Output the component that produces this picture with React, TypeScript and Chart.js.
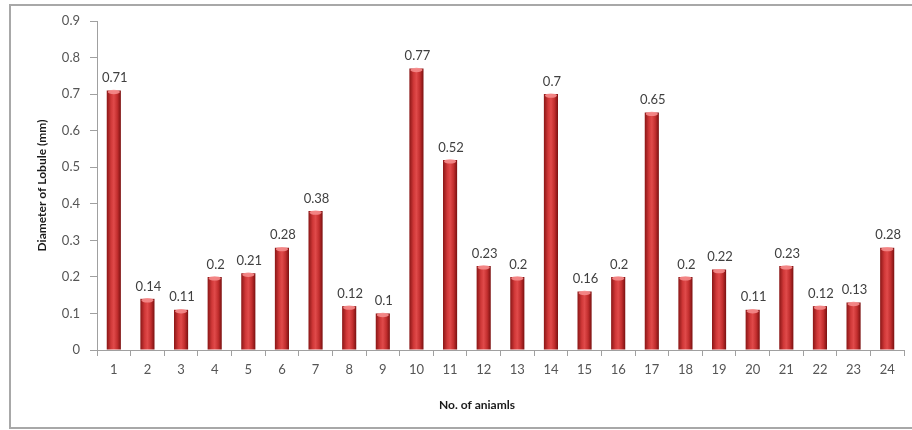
import React, { useEffect, useRef } from "react";
import { Chart, registerables } from "chart.js";

Chart.register(...registerables);

const categories = ["1","2","3","4","5","6","7","8","9","10","11","12","13","14","15","16","17","18","19","20","21","22","23","24"];
const lobuleDiameter = [0.71,0.14,0.11,0.2,0.21,0.28,0.38,0.12,0.1,0.77,0.52,0.23,0.2,0.7,0.16,0.2,0.65,0.2,0.22,0.11,0.23,0.12,0.13,0.28];
const yTitle = "Diameter of Lobule (mm)";
const xTitle = "No. of aniamls";

const FONT = "Lato, 'Open Sans', sans-serif";

const framePlugin = {
  id: "frame",
  beforeDraw(chart: any) {
    const c = chart.ctx;
    c.save();
    c.fillStyle = "#ffffff";
    c.fillRect(0, 0, chart.width, chart.height);
    c.strokeStyle = "#a8a8a8";
    c.lineWidth = 2;
    c.beginPath();
    c.moveTo(chart.width, 5);
    c.lineTo(10, 5);
    c.lineTo(10, 428);
    c.lineTo(chart.width, 428);
    c.stroke();
    c.restore();
  },
};

const labelPlugin = {
  id: "barLabels",
  afterDatasetsDraw(chart: any) {
    const c = chart.ctx;
    const meta = chart.getDatasetMeta(0);
    const data = chart.data.datasets[0].data;
    c.save();
    meta.data.forEach((el: any, i: number) => {
      const w = el.width;
      c.fillStyle = "rgba(245,140,140,0.9)";
      c.beginPath();
      c.ellipse(el.x, el.y + 1.5, Math.max(w / 2 - 1, 1), 2.2, 0, 0, Math.PI * 2);
      c.fill();
      c.fillStyle = "#404040";
      c.font = "13px " + FONT;
      c.textAlign = "center";
      c.textBaseline = "bottom";
      c.fillText(String(data[i]), el.x + 1, el.y - 6);
    });
    c.fillStyle = "#1a1a1a";
    c.font = "bold 12px " + FONT;
    c.textAlign = "center";
    c.textBaseline = "middle";
    c.fillText(xTitle, 477, 405);
    c.restore();
  },
};

function barGradient(ctx: any) {
  const chart = ctx.chart;
  const xs = chart.scales && chart.scales.x;
  if (!xs || ctx.dataIndex === undefined) return "#c03030";
  const cx = xs.getPixelForValue(ctx.dataIndex);
  const w = (xs.width / categories.length) * 0.42;
  if (!isFinite(cx) || !isFinite(w) || w <= 0) return "#c03030";
  const g = chart.ctx.createLinearGradient(cx - w / 2, 0, cx + w / 2, 0);
  g.addColorStop(0, "#8a1616");
  g.addColorStop(0.3, "#d03838");
  g.addColorStop(0.5, "#e04a4a");
  g.addColorStop(0.75, "#c22e2e");
  g.addColorStop(1, "#7a1010");
  return g;
}

export default function App() {
  const ref = useRef<HTMLCanvasElement | null>(null);
  useEffect(() => {
    if (!ref.current) return;
    const chart = new Chart(ref.current, {
      type: "bar",
      data: {
        labels: categories,
        datasets: [
          {
            data: lobuleDiameter,
            backgroundColor: barGradient as any,
            borderWidth: 0,
            barPercentage: 0.42,
            categoryPercentage: 1,
          },
        ],
      },
      options: {
        animation: false,
        responsive: true,
        maintainAspectRatio: false,
        layout: { padding: { left: 35, right: 8, top: 21, bottom: 0 } },
        plugins: { legend: { display: false }, tooltip: { enabled: false } },
        scales: {
          x: {
            grid: { display: true, drawOnChartArea: false, color: "#a0a0a0", tickLength: 6, offset: true },
            border: { color: "#a0a0a0" },
            ticks: { color: "#555555", font: { family: FONT, size: 13 }, padding: 6 },
            afterFit: (s: any) => { s.height = 80; },
          },
          y: {
            min: 0,
            max: 0.9,
            ticks: { stepSize: 0.1, color: "#555555", font: { family: FONT, size: 13 }, padding: 10,
              callback: (v: any) => String(Math.round(Number(v) * 10) / 10) },
            grid: { display: true, drawOnChartArea: false, color: "#a0a0a0", tickLength: 7 },
            border: { color: "#a0a0a0" },
            title: { display: true, text: yTitle, color: "#1a1a1a", font: { family: FONT, size: 12, weight: "bold" }, padding: { top: 0, bottom: 0 } },
            afterFit: (s: any) => { s.width = 62; },
          },
        },
      },
      plugins: [framePlugin, labelPlugin],
    });
    chart.update();
    return () => chart.destroy();
  }, []);
  return (
    <div style={{ position: "fixed", left: 0, top: 0, width: 912, height: 430 }}>
      <canvas ref={ref} />
    </div>
  );
}
